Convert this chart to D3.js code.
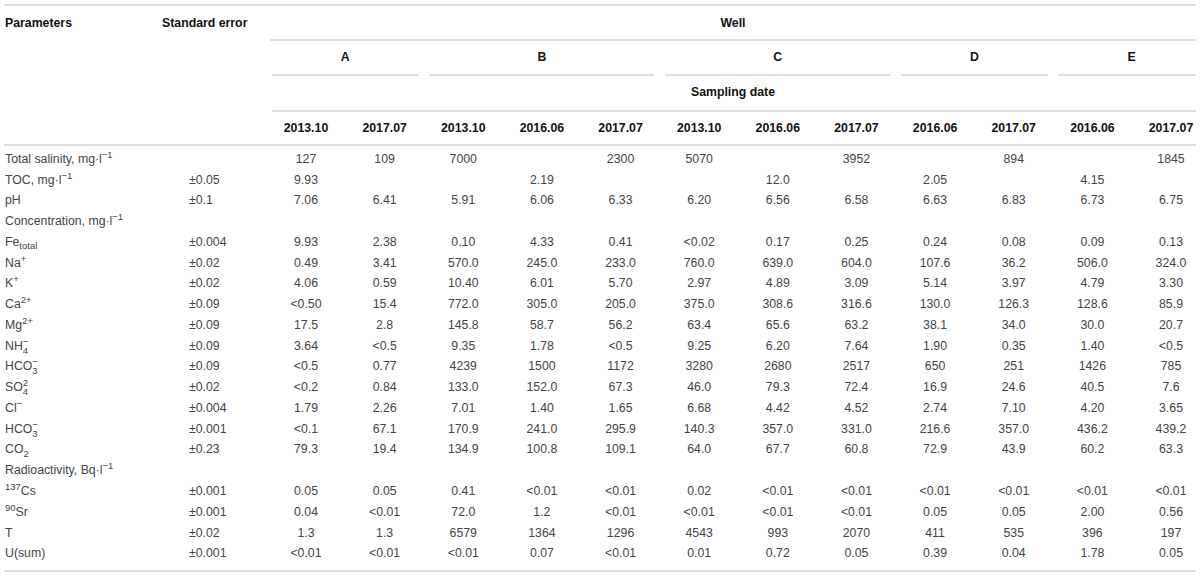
<!DOCTYPE html>
<html><head><meta charset="utf-8">
<script src="https://cdn.jsdelivr.net/npm/d3@7"></script>
<style>
html,body{margin:0;padding:0;background:#fff;}
svg{display:block;font-family:"Liberation Sans",Arial,Helvetica,sans-serif;}
</style></head>
<body>
<svg id="chart" width="1200" height="577"></svg>
<script>
// ---------- DATA ----------
const wells = ["A","B","C","D","E"];
const columnWell = ["A","A","B","B","B","C","C","C","D","D","E","E"];
const columnDate = ["2013.10","2017.07","2013.10","2016.06","2017.07","2013.10","2016.06","2017.07","2016.06","2017.07","2016.06","2017.07"];
// parameter labels as [text, style] segments; style: "" | "sup" | "sub" | "subsup"(sub|sup)
const params = [
  [["Total salinity, mg·l",""],["−1","sup"]],
  [["TOC, mg·l",""],["−1","sup"]],
  [["pH",""]],
  [["Concentration, mg·l",""],["−1","sup"]],
  [["Fe",""],["total","sub"]],
  [["Na",""],["+","sup"]],
  [["K",""],["+","sup"]],
  [["Ca",""],["2+","sup"]],
  [["Mg",""],["2+","sup"]],
  [["NH",""],["4|−","subsup"]],
  [["HCO",""],["3|−","subsup"]],
  [["SO",""],["4|2","subsup"]],
  [["Cl",""],["−","sup"]],
  [["HCO",""],["3|−","subsup"]],
  [["CO",""],["2","sub"]],
  [["Radioactivity, Bq·l",""],["−1","sup"]],
  [["137","sup"],["Cs",""]],
  [["90","sup"],["Sr",""]],
  [["T",""]],
  [["U(sum)",""]]
];
const stdErrors = ["","±0.05","±0.1","","±0.004","±0.02","±0.02","±0.09","±0.09","±0.09","±0.09","±0.02","±0.004","±0.001","±0.23","","±0.001","±0.001","±0.02","±0.001"];
const wellA_2013_10 = ["127","9.93","7.06","","9.93","0.49","4.06","<0.50","17.5","3.64","<0.5","<0.2","1.79","<0.1","79.3","","0.05","0.04","1.3","<0.01"];
const wellA_2017_07 = ["109","","6.41","","2.38","3.41","0.59","15.4","2.8","<0.5","0.77","0.84","2.26","67.1","19.4","","0.05","<0.01","1.3","<0.01"];
const wellB_2013_10 = ["7000","","5.91","","0.10","570.0","10.40","772.0","145.8","9.35","4239","133.0","7.01","170.9","134.9","","0.41","72.0","6579","<0.01"];
const wellB_2016_06 = ["","2.19","6.06","","4.33","245.0","6.01","305.0","58.7","1.78","1500","152.0","1.40","241.0","100.8","","<0.01","1.2","1364","0.07"];
const wellB_2017_07 = ["2300","","6.33","","0.41","233.0","5.70","205.0","56.2","<0.5","1172","67.3","1.65","295.9","109.1","","<0.01","<0.01","1296","<0.01"];
const wellC_2013_10 = ["5070","","6.20","","<0.02","760.0","2.97","375.0","63.4","9.25","3280","46.0","6.68","140.3","64.0","","0.02","<0.01","4543","0.01"];
const wellC_2016_06 = ["","12.0","6.56","","0.17","639.0","4.89","308.6","65.6","6.20","2680","79.3","4.42","357.0","67.7","","<0.01","<0.01","993","0.72"];
const wellC_2017_07 = ["3952","","6.58","","0.25","604.0","3.09","316.6","63.2","7.64","2517","72.4","4.52","331.0","60.8","","<0.01","<0.01","2070","0.05"];
const wellD_2016_06 = ["","2.05","6.63","","0.24","107.6","5.14","130.0","38.1","1.90","650","16.9","2.74","216.6","72.9","","<0.01","0.05","411","0.39"];
const wellD_2017_07 = ["894","","6.83","","0.08","36.2","3.97","126.3","34.0","0.35","251","24.6","7.10","357.0","43.9","","<0.01","0.05","535","0.04"];
const wellE_2016_06 = ["","4.15","6.73","","0.09","506.0","4.79","128.6","30.0","1.40","1426","40.5","4.20","436.2","60.2","","<0.01","2.00","396","1.78"];
const wellE_2017_07 = ["1845","","6.75","","0.13","324.0","3.30","85.9","20.7","<0.5","785","7.6","3.65","439.2","63.3","","<0.01","0.56","197","0.05"];
const columnValues = [wellA_2013_10,wellA_2017_07,wellB_2013_10,wellB_2016_06,wellB_2017_07,wellC_2013_10,wellC_2016_06,wellC_2017_07,wellD_2016_06,wellD_2017_07,wellE_2016_06,wellE_2017_07];

// ---------- LAYOUT ----------
const svg = d3.select("#chart");
const left = 4, right = 1196;
const colIdx = d3.range(columnDate.length);
const x = d3.scalePoint().domain(colIdx).range([306, 1171]);
const y = d3.scalePoint().domain(d3.range(params.length)).range([158.5, 553]);
const paramX = 5, seX = 162, seValX = 189;
const hdr = {top:5, well:23, wellLine:40, letter:57, letterLine:75, samp:92, sampLine:111, date:128, rule:145, bottom:571};
const ruleColor = "#d4d4d4";
const bodyColor = "#444";
const headColor = "#111";
const fs = 12.3;
const base = fs*0.35;

function hline(x1,x2,yy){
  svg.append("line").attr("x1",x1).attr("x2",x2).attr("y1",yy).attr("y2",yy)
    .attr("stroke",ruleColor).attr("stroke-width",1.6);
}
hline(left,right,hdr.top);
hline(270,right,hdr.wellLine);
hline(272,right,hdr.sampLine);
hline(left,right,hdr.rule);
hline(left,right,hdr.bottom);

// well group underlines + letters
const half = 34;
wells.forEach(w=>{
  const cols = colIdx.filter(i=>columnWell[i]===w);
  const x1 = x(cols[0]) - half, x2 = Math.min(right, x(cols[cols.length-1]) + half);
  hline(x1,x2,hdr.letterLine);
  svg.append("text").attr("x",(x(cols[0])+x(cols[cols.length-1]))/2).attr("y",hdr.letter+base)
    .attr("text-anchor","middle").attr("font-weight","bold")
    .attr("font-size",fs).attr("fill",headColor).text(w);
});

function htext(t,xx,yy,anchor){
  svg.append("text").attr("x",xx).attr("y",yy+base)
    .attr("text-anchor",anchor).attr("font-weight","bold")
    .attr("font-size",fs).attr("fill",headColor).text(t);
}
htext("Parameters",paramX,hdr.well,"start");
htext("Standard error",seX,hdr.well,"start");
htext("Well",733,hdr.well,"middle");
htext("Sampling date",733,hdr.samp,"middle");

// date headers
svg.append("g").selectAll("text").data(colIdx).join("text")
  .attr("x",d=>x(d)).attr("y",hdr.date+base).attr("text-anchor","middle")
  .attr("font-weight","bold").attr("font-size",fs).attr("fill",headColor)
  .text(d=>columnDate[d]);

// parameter labels with sub/superscripts
const small = 9.5;
params.forEach((segs,i)=>{
  const t = svg.append("text").attr("x",paramX).attr("y",y(i)+base)
    .attr("font-size",fs).attr("fill",bodyColor);
  let pending = 0;
  segs.forEach(([txt,st])=>{
    if(st===""){
      t.append("tspan").attr("dy",pending).text(txt);
      pending = 0;
    } else if(st==="sup"){
      t.append("tspan").attr("font-size",small).attr("dy",pending-5).text(txt);
      pending = 5;
    } else if(st==="sub"){
      t.append("tspan").attr("font-size",small).attr("dy",pending+3.5).text(txt);
      pending = -3.5;
    } else if(st==="subsup"){
      const [a,b] = txt.split("|");
      const sub = t.append("tspan").attr("font-size",small).attr("dy",pending+4).text(a);
      const wsub = sub.node().getComputedTextLength();
      t.append("tspan").attr("font-size",small).attr("dx",-wsub).attr("dy",-9).text(b);
      pending = 5;
    }
  });
});

// standard errors
svg.append("g").selectAll("text").data(stdErrors.map((v,i)=>({v,i})).filter(d=>d.v!=="")).join("text")
  .attr("x",seValX).attr("y",d=>y(d.i)+base)
  .attr("font-size",fs).attr("fill",bodyColor).text(d=>d.v);

// values
const cells = [];
columnValues.forEach((arr,c)=>arr.forEach((v,r)=>{ if(v!=="") cells.push({c,r,v}); }));
svg.append("g").selectAll("text").data(cells).join("text")
  .attr("x",d=>x(d.c)).attr("y",d=>y(d.r)+base).attr("text-anchor","middle")
  .attr("font-size",fs).attr("fill",bodyColor).text(d=>d.v);
</script>
</body></html>
